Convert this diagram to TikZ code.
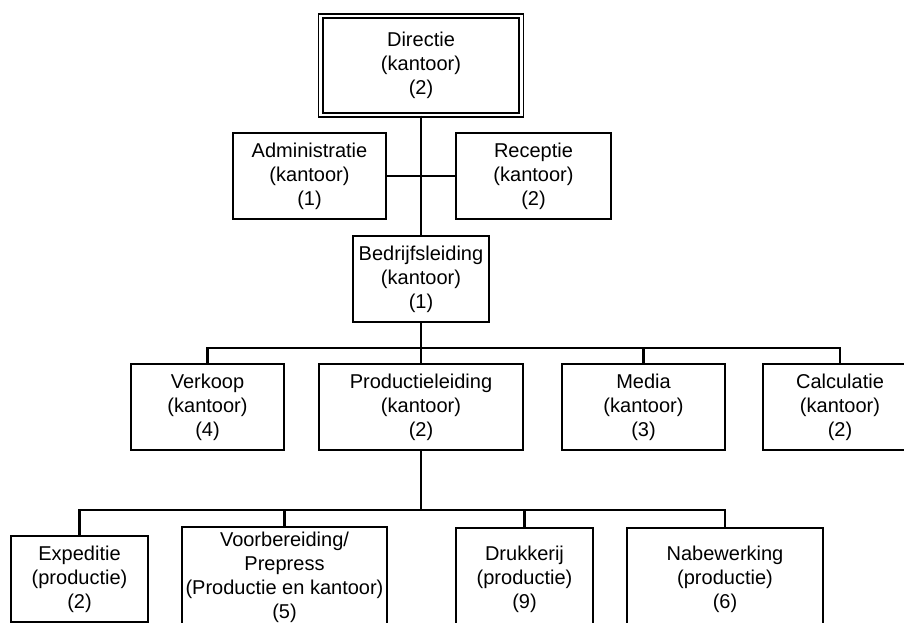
\documentclass[tikz,border=0pt]{standalone}
\usepackage{fontspec}
\setmainfont{Liberation Sans}
\begin{document}
\begin{tikzpicture}[x=0.75pt,y=-0.75pt,
  box/.style={draw, line width=1.2pt, inner sep=0pt, align=center,
    font=\fontsize{15}{18}\selectfont},
  sz/.style 2 args={minimum width=#1*0.75pt, minimum height=#2*0.75pt},
  dbl/.style={double, line width=1.1pt, double distance=2.2pt},
  conn/.style={line width=2pt}]
\clip (0,0) rectangle (904,623);
\fill[white] (0,0) rectangle (904,623);

\node[box, dbl, sz={200.5}{99}] (dir) at (421,65.5) {Directie\\(kantoor)\\(2)};
\node[box, sz={153}{86}] (adm) at (309.5,176) {Administratie\\(kantoor)\\(1)};
\node[box, sz={155}{86}] (rec) at (533.5,176) {Receptie\\(kantoor)\\(2)};
\node[box, sz={136}{86}] (bed) at (421,279) {Bedrijfsleiding\\(kantoor)\\(1)};
\node[box, sz={153}{86}] (ver) at (207.5,407) {Verkoop\\(kantoor)\\(4)};
\node[box, sz={204}{86}] (pro) at (421,407) {Productieleiding\\(kantoor)\\(2)};
\node[box, sz={163}{86}] (med) at (643.5,407) {Media\\(kantoor)\\(3)};
\node[box, sz={154}{86}] (cal) at (840,407) {Calculatie\\(kantoor)\\(2)};
\node[box, sz={137}{86}] (exp) at (79.5,579) {Expeditie\\(productie)\\(2)};
\node[box, sz={205}{101}] (voo) at (284.5,577.5) {Voorbereiding/\\Prepress\\(Productie en kantoor)\\(5)};
\node[box, sz={137}{102}] (dru) at (524.5,579) {Drukkerij\\(productie)\\(9)};
\node[box, sz={196}{102}] (nab) at (725,579) {Nabewerking\\(productie)\\(6)};

\coordinate (j1) at (421,348);
\coordinate (j2) at (421,510);

\draw[conn] (dir.south) -- (bed.north);
\draw[conn] (adm.east) -- (rec.west);
\draw[conn] (bed.south) -- (pro.north);
\draw[conn] (ver.north) -- (ver.north |- j1) -- (cal.north |- j1) -- (cal.north);
\draw[conn] (med.north) -- (med.north |- j1);
\draw[conn] (pro.south) -- (j2);
\draw[conn] (exp.north) -- (exp.north |- j2) -- (nab.north |- j2) -- (nab.north);
\draw[conn] (voo.north) -- (voo.north |- j2);
\draw[conn] (dru.north) -- (dru.north |- j2);
\end{tikzpicture}
\end{document}
